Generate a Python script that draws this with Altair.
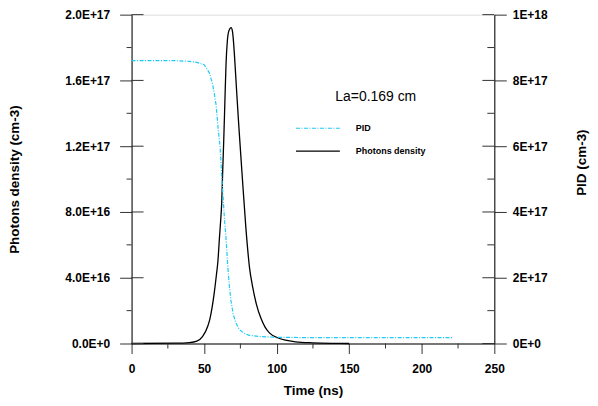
import altair as alt
import pandas as pd

# ---------------- data ----------------
time_photon = [0, 30, 40, 45, 49, 52.5, 54, 55.5, 57, 58.5, 59.5, 60.6, 61.5, 62.1, 62.8,
               63.5, 64.3, 65.1, 66, 67, 68.6, 69.5, 70.3, 71, 72.5, 74, 76, 78.8, 81.3,
               83.4, 86, 89.3, 92, 95, 100.7, 106, 113, 125, 140, 150]
photon = [0, 0.002e17, 0.006e17, 0.015e17, 0.044e17, 0.105e17, 0.15e17, 0.22e17, 0.31e17,
          0.42e17, 0.5e17, 0.648e17, 0.76e17, 0.85e17, 1.05e17, 1.23e17, 1.47e17, 1.70e17,
          1.84e17, 1.90e17, 1.921e17, 1.90e17, 1.83e17, 1.74e17, 1.52e17, 1.31e17, 1.051e17,
          0.70e17, 0.46e17, 0.346e17, 0.24e17, 0.15e17, 0.10e17, 0.065e17, 0.035e17,
          0.02e17, 0.01e17, 0.004e17, 0.001e17, 0]

time_pid = [0, 30, 40, 45, 50, 53.6, 55.9, 58.2, 59.8, 61.0, 62.0, 63.0, 64.0, 65.1,
            66.2, 67.3, 68.5, 70.0, 71.9, 74.4, 77.6, 81, 89, 100, 120, 160, 221]
pid = [0.860e18, 0.860e18, 0.858e18, 0.855e18, 0.848e18, 0.823e18, 0.788e18, 0.727e18,
       0.647e18, 0.60e18, 0.52e18, 0.45e18, 0.38e18, 0.32e18, 0.24e18, 0.18e18, 0.13e18,
       0.09e18, 0.062e18, 0.042e18, 0.031e18, 0.025e18, 0.021e18, 0.019e18, 0.018e18,
       0.018e18, 0.018e18]

x_major = [0, 50, 100, 150, 200, 250]
x_minor = [25, 75, 125, 175, 225]
left_major = [0, 4e16, 8e16, 1.2e17, 1.6e17, 2e17]
left_minor = [2e16, 6e16, 1e17, 1.4e17, 1.8e17]
right_major = [0, 2e17, 4e17, 6e17, 8e17, 1e18]
right_minor = [1e17, 3e17, 5e17, 7e17, 9e17]
series = ["PID", "Photons density"]
annotation = ["La=0.169 cm"]

# ---------------- styling ----------------
W, H = 364, 330
FONT = "Liberation Sans"
CYAN = "#1ECBF5"
TICK = "#333333"
DASH = [4, 1.5, 1, 1.5]

xs = alt.Scale(domain=[0, 250], nice=False, zero=False)
yl = alt.Scale(domain=[0, 2e17], nice=False)
yr = alt.Scale(domain=[0, 1e18], nice=False)

df_ph = pd.DataFrame({"t": time_photon, "photon": photon})
df_pid = pd.DataFrame({"t": time_pid, "pid": pid})

left_expr = ("datum.value == 0 ? '0.0E+0' : format(datum.value / pow(10, floor(log(datum.value)/LN10 + 1e-9)), '.1f')"
             " + 'E+' + floor(log(datum.value)/LN10 + 1e-9)")
right_expr = ("datum.value == 0 ? '0E+0' : format(datum.value / pow(10, floor(log(datum.value)/LN10 + 1e-9)), '.0f')"
              " + 'E+' + floor(log(datum.value)/LN10 + 1e-9)")

common = dict(grid=False, tickColor=TICK, domainColor="black", labelFont=FONT,
              labelFontSize=12, labelFontWeight="bold", labelColor="black", labelFlush=False,
              titleFont=FONT, titleFontSize=13.5, titleFontWeight="bold", titleColor="black",
              titleBaseline="middle")

xa = alt.Axis(values=x_major, title="Time (ns)", tickSize=10, labelPadding=10, titleY=47, **common)
yla = alt.Axis(orient="left", values=left_major, labelExpr=left_expr, title="Photons density (cm-3)",
               tickSize=12, labelPadding=10, titleX=-117, titleY=H / 2, titleAngle=270, **common)
yra = alt.Axis(orient="right", values=right_major, labelExpr=right_expr, title="PID (cm-3)",
               tickSize=12, labelPadding=6, titleX=87, titleY=148, titleAngle=270, **common)

photon_line = alt.Chart(df_ph).mark_line(color="black", strokeWidth=1.3, interpolate="monotone").encode(
    x=alt.X("t:Q", scale=xs, axis=xa),
    y=alt.Y("photon:Q", scale=yl, axis=yla),
)

def vrules(vals, scale, axis, x0, x1):
    return alt.Chart(pd.DataFrame({"v": vals})).mark_rule(color=TICK, strokeWidth=1).encode(
        y=alt.Y("v:Q", scale=scale, axis=axis), x=alt.value(x0), x2=alt.value(x1))

left_major_in = vrules(left_major, yl, yla, 0, 12)
left_minor_out = vrules(left_minor, yl, yla, -5, 0)

x_minor_out = alt.Chart(pd.DataFrame({"v": x_minor})).mark_rule(color=TICK, strokeWidth=1).encode(
    x=alt.X("v:Q", scale=xs, axis=xa), y=alt.value(H), y2=alt.value(H + 5))

ann = alt.Chart(pd.DataFrame({"label": annotation})).mark_text(
    font=FONT, fontSize=14, color="black", align="center", baseline="middle").encode(
    x=alt.value(245), y=alt.value(83), text="label:N")

def leg_line(label, color, dash, ypx):
    kw = dict(color=color, strokeWidth=1.2)
    if dash:
        kw["strokeDash"] = dash
    return alt.Chart(pd.DataFrame({"label": [label]})).mark_rule(**kw).encode(
        x=alt.value(165), x2=alt.value(209), y=alt.value(ypx))

def leg_text(label, ypx):
    return alt.Chart(pd.DataFrame({"label": [label]})).mark_text(
        font=FONT, fontSize=9, fontWeight="bold", color="black", align="left",
        baseline="middle").encode(x=alt.value(225), y=alt.value(ypx), text="label:N")

left = alt.layer(photon_line, left_major_in, left_minor_out, x_minor_out, ann,
                 leg_line(series[0], CYAN, DASH, 114), leg_line(series[1], "black", None, 137),
                 leg_text(series[0], 114), leg_text(series[1], 137))

pid_line = alt.Chart(df_pid).mark_line(color=CYAN, strokeWidth=1.2, strokeDash=DASH).encode(
    x=alt.X("t:Q", scale=xs, axis=xa),
    y=alt.Y("pid:Q", scale=yr, axis=yra),
)
right_major_in = vrules(right_major, yr, yra, W - 12, W)
right_minor_in = vrules(right_minor, yr, yra, W - 7, W)
right = alt.layer(pid_line, right_major_in, right_minor_in)

chart = alt.layer(left, right).resolve_scale(y="independent").properties(
    width=W, height=H,
    padding={"left": 124, "top": 6, "right": 96, "bottom": 54},
    autosize=alt.AutoSizeParams(type="none"),
).configure_view(strokeWidth=0).configure(background="white")

chart.save("out.html", embed_options={"renderer": "svg", "actions": False})
